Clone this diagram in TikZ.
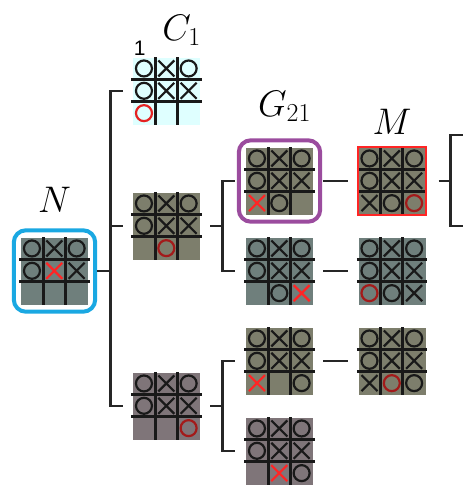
\documentclass[tikz,border=0pt]{standalone}
\usepackage{fix-cm}
\usepackage{fontspec}
\newfontfamily\tagfont{Liberation Sans}
\usetikzlibrary{positioning, fit, calc}

\definecolor{boardcyan}{HTML}{DFFFFF}
\definecolor{boardteal}{HTML}{6F7F7C}
\definecolor{boardolive}{HTML}{7D7E6C}
\definecolor{boardmauve}{HTML}{7F7579}
\definecolor{nblue}{HTML}{1AA8E2}
\definecolor{gpurple}{HTML}{9B4C9E}
\definecolor{xred}{HTML}{FF2525}
\definecolor{ored}{HTML}{A31A1A}
\definecolor{sred}{HTML}{E52222}

\tikzset{
  board/.style={rectangle, draw=none, inner sep=0pt, minimum size=67pt},
  gridline/.style={line width=3pt, color=black!90},
  markline/.style={line width=2.2pt, color=black!90},
  treeline/.style={line width=2.8pt, color=black!85},
  nodeframe/.style={draw, line width=4pt, rounded corners=12pt, inner sep=7pt},
  moveframe/.style={draw=xred, line width=2pt, inner sep=0pt},
  biglabel/.style={font=\fontsize{37}{42}\selectfont, inner sep=0pt, anchor=base},
  countlabel/.style={font=\tagfont\fontsize{21}{24}\selectfont, inner sep=0pt, anchor=base},
}

% one cell: o/x black, r dark red o, s red o, y red x, e empty
\newcommand\xomark[1]{%
  \if#1o\draw[markline] (mk) circle (8pt);\fi
  \if#1r\draw[markline, color=ored] (mk) circle (8pt);\fi
  \if#1s\draw[markline, color=sred] (mk) circle (8pt);\fi
  \if#1x\draw[markline] (mk) ++(-8,-8) -- ++(16,16) ++(-16,0) -- ++(16,-16);\fi
  \if#1y\draw[markline, color=xred] (mk) ++(-8,-8) -- ++(16,16) ++(-16,0) -- ++(16,-16);\fi
}

% grid and marks of a board node, cells row by row
\newcommand\boardfill[2]{%
  \foreach \k in {1,2} {
    \draw[gridline] ($(#1.north west)+(\k*67/3,0)$) -- ($(#1.south west)+(\k*67/3,0)$);
    \draw[gridline] ($(#1.north west)+(-1.5,\k*67/3)$) -- ($(#1.north east)+(1.5,\k*67/3)$);
  }
  \foreach \m [count=\i from 0] in {#2} {
    \pgfmathtruncatemacro\bcol{mod(\i,3)}
    \pgfmathtruncatemacro\brow{\i/3}
    \coordinate (mk) at ($(#1.north west)+({(\bcol+0.5)*67/3},{(\brow+0.5)*67/3})$);
    \xomark{\m}
  }
}

\begin{document}
\begin{tikzpicture}[x=1pt, y=-1pt]
  \useasboundingbox (0,0) rectangle (476,493);

  % Boards
  \node[board, fill=boardteal] (n) at (54.5,271) {};
  \node[board, fill=boardcyan] (c1) at (166.5,91) {};
  \node[board, fill=boardolive] (mid1) at (166.5,226) {};
  \node[board, fill=boardmauve] (mid2) at (166.5,406) {};
  \node[board, fill=boardolive] (g21) at (279.5,181) {};
  \node[board, fill=boardteal] (r2a) at (279.5,271) {};
  \node[board, fill=boardolive] (r3a) at (279.5,361) {};
  \node[board, fill=boardmauve] (r4a) at (279.5,451) {};
  \node[board, fill=boardolive] (m) at (392,181) {};
  \node[board, fill=boardteal] (r2b) at (392,271) {};
  \node[board, fill=boardolive] (r3b) at (392,361) {};

  \boardfill{n}{o,x,o,o,y,x,e,e,e}
  \boardfill{c1}{o,x,o,o,x,x,s,e,e}
  \boardfill{mid1}{o,x,o,o,x,x,e,r,e}
  \boardfill{mid2}{o,x,o,o,x,x,e,e,r}
  \boardfill{g21}{o,x,o,o,x,x,y,o,e}
  \boardfill{r2a}{o,x,o,o,x,x,e,o,y}
  \boardfill{r3a}{o,x,o,o,x,x,y,e,o}
  \boardfill{r4a}{o,x,o,o,x,x,e,y,o}
  \boardfill{m}{o,x,o,o,x,x,x,o,r}
  \boardfill{r2b}{o,x,o,o,x,x,r,o,x}
  \boardfill{r3b}{o,x,o,o,x,x,x,r,o}

  % Frames
  \node[nodeframe, draw=nblue, fit=(n)] (nbox) {};
  \node[nodeframe, draw=gpurple, fit=(g21)] (gbox) {};
  \node[moveframe, fit=(m)] (mbox) {};

  % Labels
  \node[biglabel] (nlab) at ([yshift=16pt]nbox.north) {$N$};
  \node[biglabel] (c1lab) at ([xshift=15pt,yshift=17pt]c1.north) {$C_1$};
  \node[countlabel] (count) at ([xshift=7pt,yshift=2pt]c1.north west) {1};
  \node[biglabel] (glab) at ([xshift=5pt,yshift=22pt]gbox.north) {$G_{21}$};
  \node[biglabel] (mlab) at ([yshift=11.5pt]mbox.north) {$M$};

  % Tree from N
  \coordinate (t1) at ([xshift=-22pt]c1.west);
  \draw[treeline] (nbox.east) -- (nbox.east -| t1);
  \draw[treeline] ([xshift=-10pt]c1.west) -- (t1) -- (t1 |- mid2.west)
    -- ([xshift=-10pt]mid2.west);
  \draw[treeline] (t1 |- mid1.west) -- ([xshift=-10pt]mid1.west);

  % Tree from the middle boards
  \coordinate (t2) at ([xshift=-23pt]g21.west);
  \draw[treeline] ([xshift=10pt]mid1.east) -- (mid1.east -| t2);
  \draw[treeline] ([xshift=-11pt]g21.west) -- (t2) -- (t2 |- r2a.west)
    -- ([xshift=-11pt]r2a.west);
  \coordinate (t3) at ([xshift=-23pt]r3a.west);
  \draw[treeline] ([xshift=10pt]mid2.east) -- (mid2.east -| t3);
  \draw[treeline] ([xshift=-11pt]r3a.west) -- (t3) -- (t3 |- r4a.west)
    -- ([xshift=-11pt]r4a.west);

  % Single replies
  \draw[treeline] ([xshift=10pt]g21.east) -- ([xshift=-10pt]m.west);
  \draw[treeline] ([xshift=10pt]r2a.east) -- ([xshift=-10pt]r2b.west);
  \draw[treeline] ([xshift=10pt]r3a.east) -- ([xshift=-10pt]r3b.west);

  % Tree from M
  \coordinate (t4) at ([xshift=25pt]m.east);
  \coordinate (t4a) at ([xshift=12pt,yshift=46pt]t4);
  \coordinate (t4b) at ([xshift=12pt,yshift=-45pt]t4);
  \draw[treeline] ([xshift=13pt]m.east) -- (t4);
  \draw[treeline] (t4a) -| (t4) |- (t4b);
\end{tikzpicture}
\end{document}
